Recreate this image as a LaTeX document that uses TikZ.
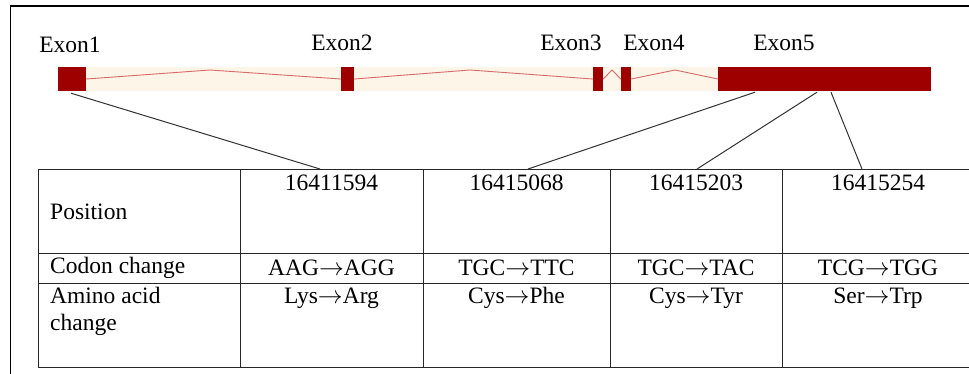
\documentclass[tikz,border=0pt]{standalone}
\usepackage{fontspec}
\setmainfont{Liberation Serif}
\definecolor{exonred}{HTML}{9E0000}
\definecolor{bandcream}{HTML}{FDF5E8}
\definecolor{intronred}{HTML}{D86A6A}
\newcommand{\tochg}{\ensuremath{\rightarrow}}
\tikzset{
  exon/.style={rectangle,fill=exonred,draw=none,inner sep=0pt,minimum height=24},
  intron/.style={draw=intronred,line width=0.9pt},
  lbl/.style={inner sep=0pt,font=\fontsize{23.5}{27}\selectfont},
  grid/.style={draw=black!85,line width=1pt},
  link/.style={draw=black!80,line width=1pt}
}
\begin{document}
\begin{tikzpicture}[x=1pt,y=-1pt]
  \clip (0,0) rectangle (969,373);
  \fill[white] (0,0) rectangle (969,373);
  % frame
  \draw[line width=1.6pt] (10.5,380) -- (10.5,6) -- (980,6);
  % gene model
  \fill[bandcream] (58,67) rectangle (931,91);
  \draw (72,79) node[exon,minimum width=28] (E1) {};
  \draw (347.5,79) node[exon,minimum width=13] (E2) {};
  \draw (598,79) node[exon,minimum width=10] (E3) {};
  \draw (626,79) node[exon,minimum width=10] (E4) {};
  \draw (824.5,79) node[exon,minimum width=213] (E5) {};
  \draw[intron] (E1.east) -- (210,70) -- (E2.west);
  \draw[intron] (E2.east) -- (470,70) -- (E3.west);
  \draw[intron] (E3.east) -- (612,70) -- (E4.west);
  \draw[intron] (E4.east) -- (675,70) -- (E5.west);
  \draw (70,45) node[lbl] (L1) {Exon1};
  \draw (342,43) node[lbl] (L2) {Exon2};
  \draw (571,43) node[lbl] (L3) {Exon3};
  \draw (654,43) node[lbl] (L4) {Exon4};
  \draw (784,43) node[lbl] (L5) {Exon5};
  % table
  \draw[grid] (38,169) rectangle (974,367);
  \draw[grid] (38,253) -- (974,253);
  \draw[grid] (38,283) -- (974,283);
  \foreach \xc in {240,423,610,782}
    \draw[grid] (\xc,169) -- (\xc,367);
  \draw (50,212) node[lbl,anchor=west] (pos) {Position};
  \draw (50,268) node[lbl,anchor=west] (codon) {Codon change};
  \draw (50,311.5) node[lbl,anchor=west,align=left] (amino) {Amino acid\\change};
  \foreach \xc/\p/\c/\a [count=\i] in {331.5/16411594/AAG\tochg AGG/Lys\tochg Arg,
      516.5/16415068/TGC\tochg TTC/Cys\tochg Phe,
      696/16415203/TGC\tochg TAC/Cys\tochg Tyr,
      878/16415254/TCG\tochg TGG/Ser\tochg Trp} {
    \draw (\xc,183) node[lbl] (P\i) {\p};
    \draw (\xc,268) node[lbl] (C\i) {\c};
    \draw (\xc,298) node[lbl] (A\i) {\a};
  }
  % links from exons to positions
  \coordinate (T1) at (320,169);
  \coordinate (T2) at (528,169);
  \coordinate (T3) at (697,169);
  \coordinate (T4) at (862,169);
  \draw[link] ([xshift=-1pt,yshift=-2pt]E1.south) -- (T1);
  \draw[link] ([xshift=-69.5pt,yshift=-1pt]E5.south) -- (T2);
  \draw[link] ([xshift=-7.5pt,yshift=-1pt]E5.south) -- (T3);
  \draw[link] ([xshift=6.5pt,yshift=-1pt]E5.south) -- (T4);
\end{tikzpicture}
\end{document}
